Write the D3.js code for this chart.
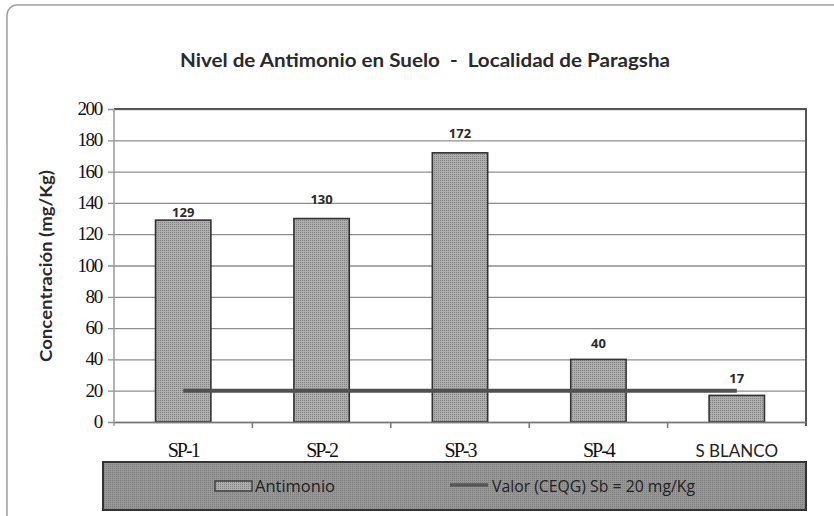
<!DOCTYPE html>
<html>
<head>
<meta charset="utf-8">
<script src="https://d3js.org/d3.v7.min.js"></script>
<style>
    body { margin: 0; background: #ffffff; }
    #chart .title { font-family: Lato, "Open Sans", sans-serif; font-weight: bold; font-size: 19px; fill: #2a2a2a; }
    #chart .ytitle { font-family: Lato, "Open Sans", sans-serif; font-weight: bold; font-size: 17px; fill: #2a2a2a; }
    #chart .ylab { font-family: "Liberation Serif", "DejaVu Serif", serif; font-size: 19px; fill: #111; letter-spacing: -1.3px; }
    #chart .xlab { font-family: "Liberation Serif", "DejaVu Serif", serif; font-size: 20px; fill: #111; letter-spacing: -2px; }
    #chart .xlab-sans { font-family: Lato, "Open Sans", sans-serif; font-size: 17px; fill: #222; }
    #chart .value { font-family: "Open Sans", sans-serif; font-weight: bold; font-size: 13px; fill: #2a2a2a; }
    #chart .legend-text { font-family: "Open Sans", sans-serif; font-size: 16px; fill: #222; }
    #chart .grid line { stroke: #8e8e8e; stroke-width: 1.3; }
    #chart .bar { stroke: #333; stroke-width: 1.6; }
</style>
</head>
<body>
<svg id="chart" width="834" height="516"></svg>
<script>
const CATEGORIES = ["SP-1", "SP-2", "SP-3", "SP-4", "S BLANCO"];
const ANTIMONIO = [129, 130, 172, 40, 17];
const LIMIT = 20;
const Y_TICKS = [0, 20, 40, 60, 80, 100, 120, 140, 160, 180, 200];
const TITLE = "Nivel de Antimonio en Suelo  -  Localidad de Paragsha";
const Y_TITLE = "Concentración (mg/Kg)";
const LEGEND_LABELS = ["Antimonio", "Valor (CEQG) Sb = 20 mg/Kg"];

// label lift above bar top (layout, as placed in the original)
const LABEL_LIFT = [3, 15, 15, 11, 12];

const svg = d3.select("#chart");
const plotLeft = 114, plotRight = 806, plotTop = 109, plotBottom = 422;

// textures
const defs = svg.append("defs");
function dotPattern(id, bg, fg) {
    const p = defs.append("pattern").attr("id", id)
        .attr("width", 2).attr("height", 2).attr("patternUnits", "userSpaceOnUse");
    p.append("rect").attr("width", 2).attr("height", 2).attr("fill", bg);
    p.append("rect").attr("width", 1).attr("height", 1).attr("fill", fg);
}
dotPattern("dots", "#adadad", "#858585");
dotPattern("dots2", "#979797", "#7c7c7c");

// outer frame
svg.append("rect")
    .attr("x", 7).attr("y", 5).attr("width", 840).attr("height", 530)
    .attr("rx", 10)
    .attr("fill", "none").attr("stroke", "#a0a0a0").attr("stroke-width", 1.5);

svg.append("text").attr("class", "title")
    .attr("x", 425).attr("y", 67).attr("text-anchor", "middle")
    .attr("xml:space", "preserve")
    .attr("textLength", 490).attr("lengthAdjust", "spacingAndGlyphs")
    .text(TITLE);

const x = d3.scaleBand().domain(CATEGORIES).range([plotLeft, plotRight]).paddingInner(0.6).paddingOuter(0.3);
const xOuter = d3.scaleBand().domain(CATEGORIES).range([plotLeft, plotRight]);
const y = d3.scaleLinear().domain([0, 200]).range([plotBottom, plotTop]);

// grid lines
svg.append("g").attr("class", "grid")
    .attr("transform", `translate(${plotLeft},0)`)
    .call(d3.axisLeft(y).tickValues(Y_TICKS).tickSize(-(plotRight - plotLeft)).tickFormat(""))
    .call(g => g.select(".domain").remove())
    .call(g => g.selectAll("line").attr("x1", -6));

// plot border top/right
svg.append("path")
    .attr("d", `M${plotLeft},${plotTop}H${plotRight}V${plotBottom + 4}`)
    .attr("fill", "none").attr("stroke", "#555").attr("stroke-width", 2);

// y axis line
svg.append("line")
    .attr("x1", plotLeft).attr("x2", plotLeft).attr("y1", plotTop).attr("y2", plotBottom + 4)
    .attr("stroke", "#999").attr("stroke-width", 1.5);

// y labels
svg.append("g").selectAll("text").data(Y_TICKS).join("text")
    .attr("class", "ylab")
    .attr("x", 102).attr("y", d => y(d) + 6)
    .attr("text-anchor", "end")
    .text(d => d);

svg.append("text").attr("class", "ytitle")
    .attr("transform", `translate(52,${266}) rotate(-90)`)
    .attr("text-anchor", "middle")
    .attr("textLength", 192).attr("lengthAdjust", "spacingAndGlyphs")
    .text(Y_TITLE);

// bars
svg.append("g").selectAll("rect").data(ANTIMONIO).join("rect")
    .attr("class", "bar")
    .attr("x", (d, i) => x(CATEGORIES[i]))
    .attr("width", x.bandwidth())
    .attr("y", d => y(d))
    .attr("height", d => y(0) - y(d))
    .attr("fill", "url(#dots)");

// value labels
svg.append("g").selectAll("text").data(ANTIMONIO).join("text")
    .attr("class", "value")
    .attr("x", (d, i) => x(CATEGORIES[i]) + x.bandwidth() / 2)
    .attr("y", (d, i) => y(d) - LABEL_LIFT[i])
    .attr("text-anchor", "middle")
    .text(d => d);

// x axis
svg.append("g")
    .attr("transform", `translate(0,${plotBottom})`)
    .call(d3.axisBottom(xOuter).tickSize(0).tickFormat(""))
    .call(g => g.select(".domain").attr("stroke", "#777").attr("stroke-width", 1.5));
svg.append("g").selectAll("line").data(CATEGORIES.slice(1)).join("line")
    .attr("x1", d => xOuter(d)).attr("x2", d => xOuter(d))
    .attr("y1", plotBottom).attr("y2", plotBottom + 6)
    .attr("stroke", "#777").attr("stroke-width", 1.5);

svg.append("g").selectAll("text").data(CATEGORIES).join("text")
    .attr("class", (d, i) => i === 4 ? "xlab-sans" : "xlab")
    .attr("x", d => xOuter(d) + xOuter.bandwidth() / 2)
    .attr("y", 457)
    .attr("text-anchor", "middle")
    .text(d => d);

// threshold line
svg.append("line")
    .attr("x1", xOuter(CATEGORIES[0]) + xOuter.bandwidth() / 2)
    .attr("x2", xOuter(CATEGORIES[4]) + xOuter.bandwidth() / 2)
    .attr("y1", y(LIMIT)).attr("y2", y(LIMIT))
    .attr("stroke", "#505050").attr("stroke-width", 4);

// legend
const lg = svg.append("g");
lg.append("rect")
    .attr("x", 103).attr("y", 462).attr("width", 703).attr("height", 48)
    .attr("fill", "url(#dots2)").attr("stroke", "#333").attr("stroke-width", 2);
lg.append("rect")
    .attr("x", 215).attr("y", 481).attr("width", 37).attr("height", 10)
    .attr("fill", "url(#dots)").attr("stroke", "#333").attr("stroke-width", 1.3);
lg.append("text").attr("class", "legend-text")
    .attr("x", 255).attr("y", 492)
    .attr("textLength", 80).attr("lengthAdjust", "spacingAndGlyphs")
    .text(LEGEND_LABELS[0]);
lg.append("line")
    .attr("x1", 450).attr("x2", 488).attr("y1", 485).attr("y2", 485)
    .attr("stroke", "#555").attr("stroke-width", 3.5);
lg.append("text").attr("class", "legend-text")
    .attr("x", 492).attr("y", 492)
    .attr("textLength", 203).attr("lengthAdjust", "spacingAndGlyphs")
    .text(LEGEND_LABELS[1]);
</script>
</body>
</html>
